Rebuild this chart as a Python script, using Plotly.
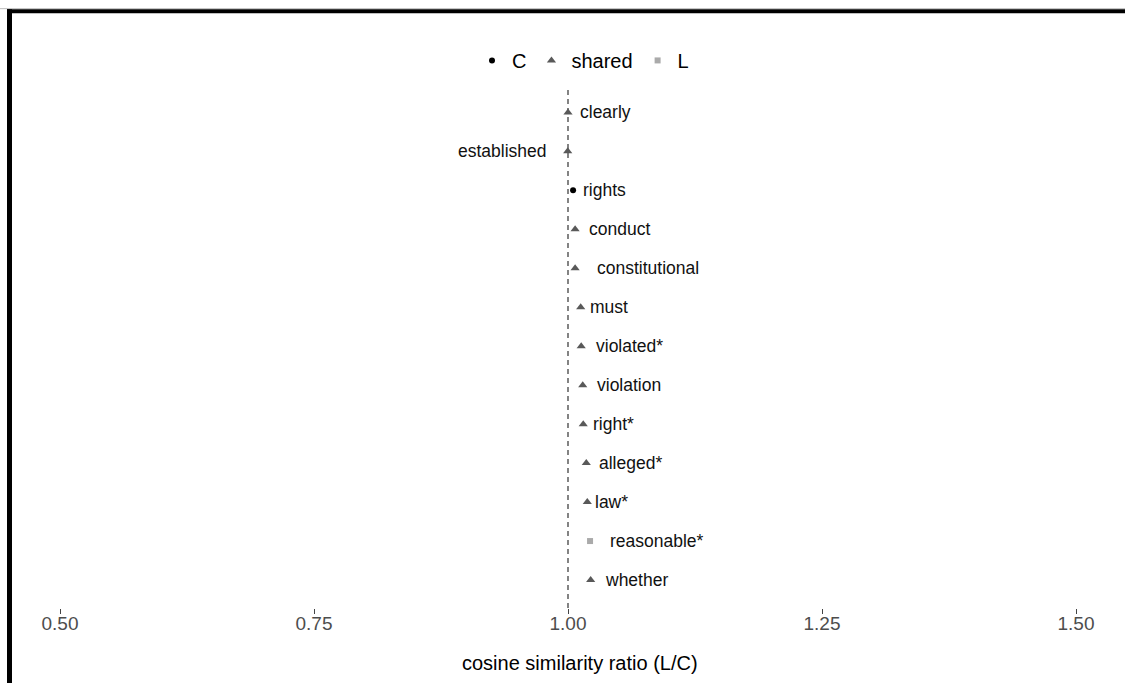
import plotly.graph_objects as go

# ---- data (top to bottom) ----
words = ["clearly", "established", "rights", "conduct", "constitutional", "must",
         "violated*", "violation", "right*", "alleged*", "law*", "reasonable*", "whether"]
ratio = [1.000, 0.9997, 1.005, 1.007, 1.007, 1.0125, 1.013, 1.0145, 1.015,
         1.018, 1.019, 1.0217, 1.0223]
group = ["shared", "shared", "C", "shared", "shared", "shared", "shared", "shared",
         "shared", "shared", "shared", "L", "shared"]
label_dx = [11, -20, 9, 13, 21, 8, 14, 13, 9, 12, 7, 19, 13]  # label offsets (px)

x_ticks = [0.50, 0.75, 1.00, 1.25, 1.50]
x_ticktext = ["0.50", "0.75", "1.00", "1.25", "1.50"]

groups = ["C", "shared", "L"]
styles = {
    "C": dict(symbol="circle", color="#000000", size=6),
    "shared": dict(symbol="triangle-up", color="#595959", size=8),
    "L": dict(symbol="square", color="#aaaaaa", size=6),
}

W, H = 1125, 683
ML, MR, MT, MB = 60, 49, 88.6, 75
PW, PH = W - ML - MR, H - MT - MB

n = len(words)
ypos = [n - i for i in range(n)]

FONT = "Liberation Sans, Arial, Helvetica, sans-serif"

fig = go.Figure()
for g in groups:
    xs = [ratio[i] for i in range(n) if group[i] == g]
    ys = [ypos[i] for i in range(n) if group[i] == g]
    st = styles[g]
    fig.add_trace(go.Scatter(
        x=xs, y=ys, mode="markers", name=g,
        marker=dict(symbol=st["symbol"], color=st["color"], size=st["size"],
                    line=dict(width=0)),
        cliponaxis=False,
    ))

# vertical reference line at 1
fig.add_shape(type="line", xref="x", yref="paper", x0=1, x1=1, y0=0, y1=1,
              line=dict(color="#333333", width=1.2, dash="5px,4px"), layer="below")

# labels
for i in range(n):
    fig.add_annotation(
        x=ratio[i], y=ypos[i], xref="x", yref="y", text=words[i], showarrow=False,
        xanchor="left" if label_dx[i] > 0 else "right", yanchor="middle",
        xshift=label_dx[i], font=dict(family=FONT, size=17.5, color="#111111"),
        borderpad=0,
    )

def px_x(p):
    return (p - ML) / PW

def px_y(p):
    return (H - MB - p) / PH

# x axis title (as annotation to match position)
fig.add_annotation(
    x=px_x(579.5), y=px_y(663), xref="paper", yref="paper",
    text="cosine similarity ratio (L/C)", showarrow=False, xanchor="center",
    yanchor="middle", font=dict(family=FONT, size=20, color="#000000"),
)

# frame lines (left and top borders)
fig.add_shape(type="line", xref="paper", yref="paper",
              x0=px_x(0), x1=px_x(W), y0=px_y(8.2), y1=px_y(8.2),
              line=dict(color="#bbbbbb", width=1))
fig.add_shape(type="line", xref="paper", yref="paper",
              x0=px_x(7), x1=px_x(W), y0=px_y(10.7), y1=px_y(10.7),
              line=dict(color="#000000", width=4))
fig.add_shape(type="line", xref="paper", yref="paper",
              x0=px_x(9.5), x1=px_x(9.5), y0=px_y(8.7), y1=px_y(H),
              line=dict(color="#000000", width=5))

# y range chosen so rows keep 39px spacing with panel bottom at 608px
row_px = 39.0
y_top = n + (112 - MT) / row_px
y_bot = y_top - PH / row_px

fig.update_layout(
    width=W, height=H,
    margin=dict(l=ML, r=MR, t=MT, b=MB, pad=0),
    paper_bgcolor="white", plot_bgcolor="white",
    font=dict(family=FONT, color="#000000"),
    showlegend=True,
    legend=dict(orientation="h", x=px_x(583), xanchor="center",
                y=px_y(60), yanchor="middle", font=dict(size=20, color="#000000"),
                itemwidth=30, tracegroupgap=0, bgcolor="rgba(0,0,0,0)"),
    xaxis=dict(range=[0.5, 1.5], tickvals=x_ticks, ticktext=x_ticktext,
               showgrid=False, zeroline=False, showline=False,
               ticks="outside", ticklen=5, tickwidth=1, tickcolor="#444444",
               ticklabelstandoff=-7,
               tickfont=dict(size=19, color="#4d4d4d")),
    yaxis=dict(range=[y_bot, y_top], showgrid=False, zeroline=False,
               showline=False, showticklabels=False, ticks=""),
)

fig.write_html("out.html")
